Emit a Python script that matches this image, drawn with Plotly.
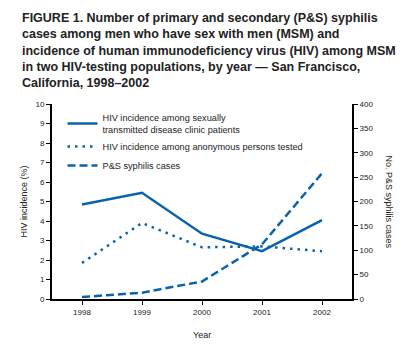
import plotly.graph_objects as go

years = [1998, 1999, 2000, 2001, 2002]
hiv_clinic = [4.85, 5.45, 3.35, 2.45, 4.05]
hiv_anon = [1.85, 3.9, 2.65, 2.7, 2.45]
syphilis = [4, 13, 36, 112, 258]

x_ticks = [1998, 1999, 2000, 2001, 2002]
y_ticks = list(range(0, 11))
y2_ticks = list(range(0, 401, 50))

blue = "#0a62ad"
txt = "#222222"
font = "Liberation Sans, Arial, sans-serif"

fig = go.Figure()
fig.add_trace(go.Scatter(x=years, y=hiv_clinic, mode="lines",
                         line=dict(color=blue, width=2.5),
                         name="HIV incidence among sexually<br>transmitted disease clinic patients"))
fig.add_trace(go.Scatter(x=years, y=hiv_anon, mode="lines",
                         line=dict(color=blue, width=2.5, dash="2.5px,5px"),
                         name="HIV incidence among anonymous persons tested"))
fig.add_trace(go.Scatter(x=years, y=syphilis, mode="lines", yaxis="y2",
                         line=dict(color=blue, width=2.5, dash="8px,4px"),
                         name="P&S syphilis cases"))

title = ("FIGURE 1. Number of primary and secondary (P&S) syphilis<br>"
         "cases among men who have sex with men (MSM) and<br>"
         "incidence of human immunodeficiency virus (HIV) among MSM<br>"
         "in two HIV-testing populations, by year — San Francisco,<br>"
         "California, 1998–2002")

fig.add_annotation(text="<b>" + title + "</b>", xref="paper", yref="paper",
                   x=-32/300, y=1 + 95/195, xanchor="left", yanchor="top",
                   align="left", showarrow=False,
                   font=dict(family=font, size=12.5, color=txt))

fig.add_annotation(text="No. P&S syphilis cases", xref="paper", yref="paper",
                   x=1 + 37/300, y=0.5, xanchor="center", yanchor="middle",
                   textangle=90, showarrow=False,
                   font=dict(family=font, size=9, color=txt))

fig.add_annotation(text="Year", xref="paper", yref="paper",
                   x=0.5, y=-36/195, xanchor="center", yanchor="middle",
                   showarrow=False, font=dict(family=font, size=9, color=txt))

fig.update_layout(
    width=418, height=348,
    margin=dict(l=52, r=66, t=104, b=49, autoexpand=False),
    paper_bgcolor="white", plot_bgcolor="white",
    font=dict(family=font, size=8, color=txt),
    showlegend=True,
    legend=dict(x=0.035, y=0.995, xanchor="left", yanchor="top",
                bgcolor="rgba(0,0,0,0)", font=dict(size=9.2, color=txt),
                itemwidth=30, tracegroupgap=0),
    xaxis=dict(range=[1997.5, 2002.5], tickvals=x_ticks, ticktext=[str(v) for v in x_ticks],
               showline=True, linecolor="black", linewidth=2, ticks="outside",
               ticklen=4, tickcolor="black", showgrid=False, zeroline=False),
    yaxis=dict(range=[0, 10], tickvals=y_ticks, showline=True, linecolor="black",
               linewidth=2, ticks="outside", ticklen=4, tickcolor="black",
               showgrid=False, zeroline=False,
               title=dict(text="HIV incidence (%)", font=dict(size=9), standoff=6)),
    yaxis2=dict(range=[0, 400], tickvals=y2_ticks, overlaying="y", side="right",
                showline=True, linecolor="black", linewidth=2, ticks="outside",
                ticklen=4, tickcolor="black", showgrid=False, zeroline=False),
)

fig.write_html("out.html")
